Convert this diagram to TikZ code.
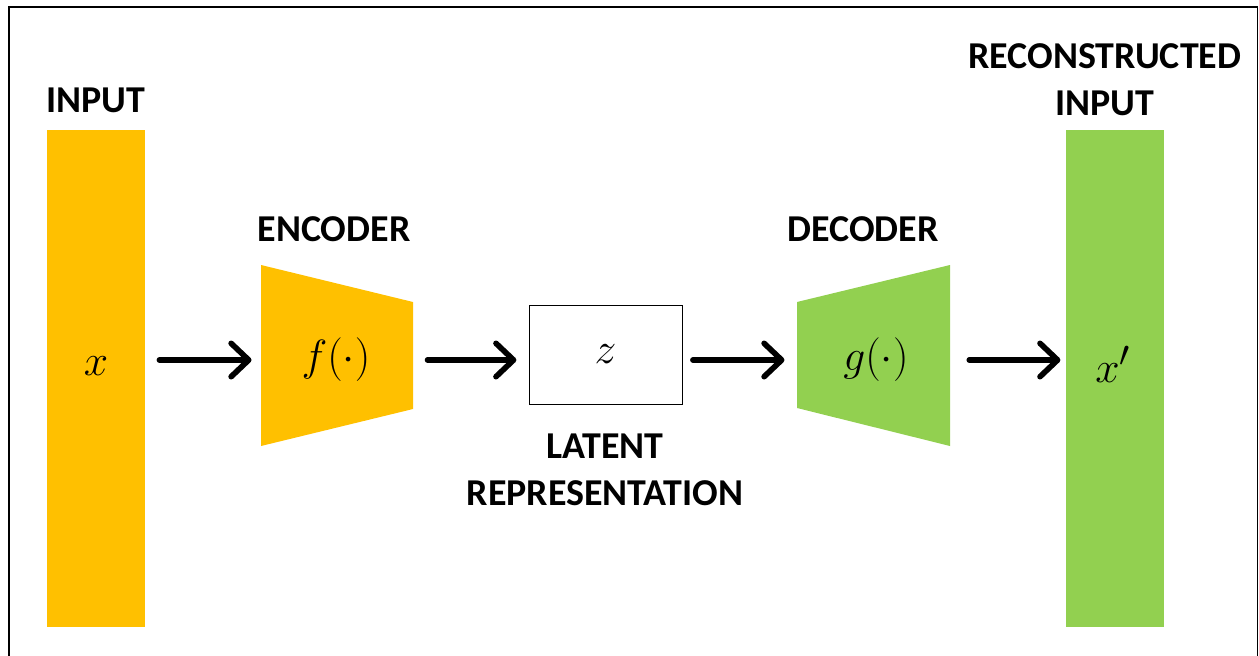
\documentclass[tikz,border=0pt]{standalone}
\usepackage{fontspec}
\setsansfont{Carlito}
\usetikzlibrary{arrows.meta}
\definecolor{encyellow}{HTML}{FFC000}
\definecolor{decgreen}{HTML}{92D050}

\begin{document}
\begin{tikzpicture}[
        x=0.02cm, y=-0.02cm,
        bar/.style={inner sep=0pt, minimum width=1.96cm, minimum height=9.94cm},
        coderbox/.style={inner sep=0pt, minimum width=3.05cm, minimum height=3.62cm,
            font=\fontsize{32}{36}\selectfont},
        latentbox/.style={draw, thin, inner sep=0pt, minimum width=3.06cm, minimum height=1.98cm,
            font=\fontsize{32}{36}\selectfont},
        mathlabel/.style={font=\fontsize{32}{36}\selectfont},
        title/.style={font=\sffamily\bfseries\fontsize{21.6}{26.6}\selectfont, align=center},
        arrow/.style={line width=3.2pt, line cap=round,
            -{Straight Barb[length=10pt, width=19pt, round]}},
    ]
    \useasboundingbox (0,0) rectangle (1259,656);

    % ==========================================
    % FRAME (bottom edge is cut off)
    % ==========================================
    \draw[line width=1.1pt] (9,656) -- (9,7) -- (1257.5,7) -- (1257.5,656);

    % ==========================================
    % INPUT / RECONSTRUCTED INPUT
    % ==========================================
    \node[bar, fill=encyellow] (inbar) at (96,378.5) {};
    \node[mathlabel] (xin) at (96,366) {$x$};
    \node[title] at (96,100) {INPUT};

    \node[bar, fill=decgreen] (outbar) at (1115,378.5) {};
    \node[mathlabel] (xout) at (1113,364) {$x'$};
    \node[title] at (1105,80) {RECONSTRUCTED\\INPUT};

    % ==========================================
    % ENCODER
    % ==========================================
    \fill[encyellow] (261,265) -- (413,302) -- (413,409) -- (261,446) -- cycle;
    \node[coderbox] (enc) at (336,360) {$f(\cdot)$};
    \node[title] at (334,229) {ENCODER};

    % ==========================================
    % LATENT REPRESENTATION
    % ==========================================
    \node[latentbox] (lat) at (605.5,354.5) {$z$};
    \node[title] at (605,470) {LATENT\\REPRESENTATION};

    % ==========================================
    % DECODER
    % ==========================================
    \fill[decgreen] (797,302) -- (950,265) -- (950,446) -- (797,408) -- cycle;
    \node[coderbox] (dec) at (876,360) {$g(\cdot)$};
    \node[title] at (863,229) {DECODER};

    % arrows
    \draw[arrow, shorten <=8pt, shorten >=6pt] (inbar.east |- enc.west) -- ([xshift=1.5pt]enc.west);
    \draw[arrow, shorten <=7pt, shorten >=7pt] ([xshift=1.5pt]enc.east) -- (lat.west |- enc.east);
    \draw[arrow, shorten <=6pt, shorten >=7pt] (lat.east |- dec.west) -- ([xshift=-1.5pt]dec.west);
    \draw[arrow, shorten <=11pt, shorten >=3pt] ([xshift=-1.5pt]dec.east) -- (outbar.west |- dec.east);

\end{tikzpicture}
\end{document}
